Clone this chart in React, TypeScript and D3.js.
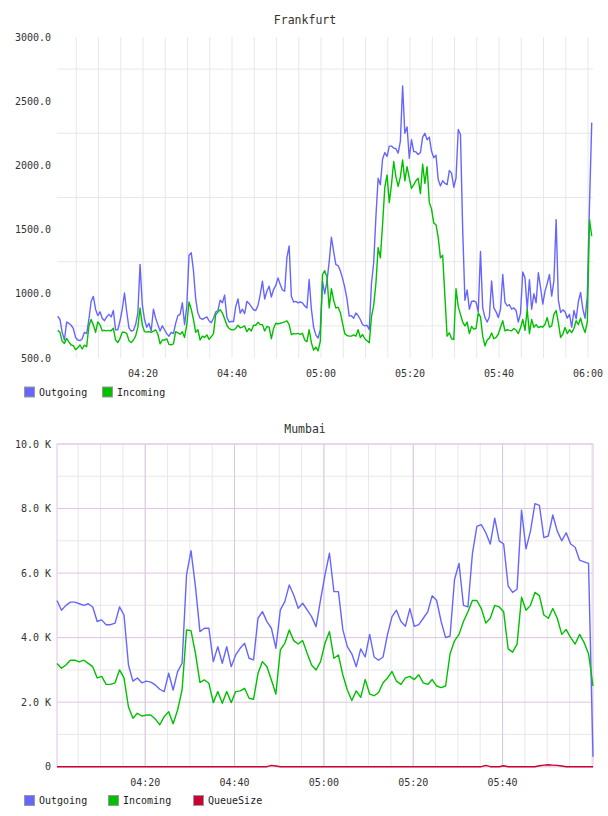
import * as d3 from 'd3'

// Frankfurt: one sample every 30 s starting at 04:00:50
const fraStart = '04:00:50'
const fraStepSec = 30
const fraOutgoing = [
  825, 800, 700, 640, 780, 770, 755, 730, 660, 640,
  635, 650, 700, 690, 800, 940, 980, 880, 830, 860,
  810, 790, 820, 840, 820, 870, 720, 720, 790, 880,
  1006, 860, 735, 710, 715, 760, 850, 1229, 915, 800,
  740, 770, 710, 880, 810, 760, 710, 750, 720, 690,
  670, 700, 690, 770, 830, 840, 930, 760, 900, 1300,
  1320, 1180,
  960, 850, 810, 800, 810, 820, 790, 775, 810, 858,
  870, 950, 930, 990, 820, 780, 784, 784, 900, 960,
  850, 880, 845, 941, 925, 900, 876, 870, 910, 993,
  1098, 960, 1020, 1059, 975, 1033, 1065, 1124, 1072, 1030,
  1020, 1281, 1373, 980, 936, 941, 930, 936, 930, 905,
  889, 1111, 880, 740, 680, 655, 720, 1098, 1000, 1098,
  1250,
  1440, 1330, 1227, 1220, 1180, 1120, 1050, 960, 826, 830,
  810, 850, 830, 800, 761, 750, 755, 720, 1080, 1240,
  1600, 1900, 1850, 2050, 2100, 2070, 2150, 2150, 2135, 2130,
  2095, 2190, 2618, 2250, 2300, 2056, 2200, 2108, 2105, 2085,
  2100, 2220, 2250, 2200, 2220, 2110, 2060, 2080, 1890, 1840,
  1880, 1860, 1850, 1960, 1940, 1830, 1900, 2280, 2240, 1500,
  950,
  1030, 880, 940, 944, 935, 860, 1330, 890, 815, 780,
  820, 1100, 890, 860, 815, 880, 1150, 935, 905, 915,
  880, 890, 870, 780, 850, 1170, 1125, 880, 1110, 880,
  1000, 930, 1164, 1050, 920, 1021, 1080, 1150, 982, 1100,
  1577, 950, 855, 875, 860, 810, 840, 740, 870, 805,
  940, 1010, 880, 810, 980, 1700, 2333,
]
const fraIncoming = [
  715, 700, 630, 614, 653, 625, 601, 596, 565, 580,
  601, 570, 600, 588, 750, 800, 758, 700, 780, 758,
  712, 715, 711, 715, 712, 732, 640, 620, 653, 700,
  700, 692, 635, 620, 640, 670, 740, 889, 758, 705,
  702, 705, 700, 710, 719, 685, 610, 640, 640, 650,
  606, 603, 610, 705, 695, 685, 705, 660, 760, 936,
  880, 800,
  700, 720, 640, 670, 660, 680, 645, 665, 690, 838,
  858, 876, 850, 805, 755, 730, 720, 719, 730, 755,
  735, 740, 750, 705, 730, 710, 755, 755, 778, 760,
  760, 710, 745, 740, 650, 730, 771, 765, 771, 775,
  782, 790, 760, 682, 690, 688, 692, 684, 692, 640,
  627, 720, 620, 561, 585, 555, 630, 1150, 1180, 1130,
  890,
  1040, 950, 890, 895, 855, 770, 690, 675, 670, 670,
  680, 670, 720, 660, 683, 650, 635, 618, 820, 910,
  1080, 1360, 1280, 1540, 1830, 1926, 1710, 1850, 2030, 1910,
  1836, 1910, 2043, 1880, 1990, 1900, 1820, 1850, 1880, 1900,
  1780, 2010, 1860, 1990, 1710, 1660, 1550, 1538, 1440, 1280,
  1300, 980, 670, 696, 650, 644, 1040, 900, 840, 780,
  750,
  780, 690, 745, 725, 730, 850, 820, 670, 594, 640,
  655, 695, 650, 660, 685, 740, 790, 712, 720, 715,
  712, 730, 718, 690, 735, 800, 715, 880, 690, 800,
  740, 760, 737, 745, 740, 763, 815, 740, 750, 840,
  870, 775, 660, 685, 737, 690, 720, 698, 730, 790,
  760, 810, 745, 698, 780, 1577, 1448,
]
const fraYTicks = [500, 1000, 1500, 2000, 2500, 3000]
const fraTimeLabels = ['04:20', '04:40', '05:00', '05:20', '05:40', '06:00']

// Mumbai: one sample per minute starting at 04:00:15
const mumStart = '04:00:15'
const mumStepSec = 60
const mumOutgoing = [
  5150, 4850, 5000, 5100, 5100, 5050, 5000, 5050, 4950, 4500,
  4550, 4400, 4400, 4450, 4950, 4700, 3150, 2650, 2750, 2600,
  2650, 2620, 2533, 2400, 2325, 2895, 2378, 2945, 3205, 5943,
  6696, 5580, 4185, 4290, 4290, 3255, 3720, 3205, 3720, 3100,
  3463, 3670, 3825, 3360, 3308, 4600, 4805, 4495, 4290, 3670,
  4858, 5115, 5633, 5323, 4910, 5065, 4858, 4650, 4340, 5168,
  5943, 6615, 5425, 5425, 4238, 3720, 3500, 3100, 3650, 3400,
  4100, 3400, 3300, 3400, 4100, 4650, 4850, 4500, 4350, 4900,
  4350, 4400, 4600, 4800, 5300, 5150, 4500, 4000, 4050, 5800,
  6300, 5000, 4950, 6600, 7450, 7500, 7250, 6900, 7700, 7000,
  6900, 5600, 5400, 5500, 7950, 6750, 7300, 8150, 8100, 7100,
  7150, 7800, 7300, 7000, 7250, 6900, 6800, 6400, 6350, 6300,
  310,
]
const mumIncoming = [
  3200, 3050, 3150, 3300, 3300, 3250, 3300, 3200, 3100, 2750,
  2800, 2550, 2550, 2600, 3000, 2750, 1850, 1500, 1655, 1571,
  1600, 1603, 1480, 1300, 1550, 1706, 1330, 1757, 2378, 4238,
  4218, 3514, 2615, 2688, 2585, 1986, 2327, 1964, 2327, 1986,
  2327, 2348, 2430, 2120, 2089, 2895, 3257, 3100, 2688, 2254,
  3617, 3824, 4238, 3907, 3803, 3907, 3514, 3152, 2997, 3257,
  3824, 4186, 3359, 3462, 2842, 2378, 2050, 2350, 2150, 2700,
  2250, 2200, 2300, 2600, 2750, 2950, 2650, 2550, 2750, 2800,
  2700, 2850, 2600, 2550, 2700, 2500, 2450, 2500, 3500, 3900,
  4100, 4500, 4800, 5150, 5150, 4900, 4450, 4600, 5000, 4950,
  4800, 3650, 3550, 3800, 5250, 4850, 5000, 5400, 5300, 4700,
  4600, 4900, 4600, 4100, 4250, 4000, 3800, 4100, 3850, 3500,
  2500,
]
const mumQueue = [
  0, 0, 0, 0, 0, 0, 0, 0, 0, 0,
  0, 0, 0, 0, 0, 0, 0, 0, 0, 0,
  0, 0, 0, 0, 0, 0, 0, 0, 0, 0,
  0, 0, 0, 0, 0, 0, 0, 0, 0, 0,
  0, 0, 0, 0, 0, 0, 0, 0, 40, 20,
  0, 0, 0, 0, 0, 0, 0, 0, 0, 0,
  0, 0, 0, 0, 0, 0, 0, 0, 0, 0,
  0, 0, 0, 0, 0, 0, 0, 0, 0, 0,
  0, 0, 0, 0, 0, 0, 0, 0, 0, 0,
  0, 0, 0, 0, 0, 0, 40, 0, 0, 0,
  30, 0, 0, 0, 0, 0, 0, 0, 30, 50,
  60, 50, 40, 20, 0, 0, 0, 0, 0, 0,
  0,
]
const mumYTicks = [0, 2000, 4000, 6000, 8000, 10000]
const mumTimeLabels = ['04:20', '04:40', '05:00', '05:20', '05:40']

const COLORS = { out: '#6666ff', inc: '#00c000', queue: '#cc0033' }
const FONT = '"DejaVu Sans Mono", "Liberation Mono", monospace'
const PLOT_LEFT = 57
const PLOT_RIGHT = 593

const parseHMS = d3.timeParse('%H:%M:%S')
const parseHM = d3.timeParse('%H:%M')
const fmtTime = d3.timeFormat('%H:%M')

type Series = { name: string; color: string; values: number[] }

type PanelProps = {
  title: string
  titleY: number
  top: number
  bottom: number
  xDomain: [string, string]
  yDomain: [number, number]
  yTicks: number[]
  yFormat: (v: number) => string
  timeLabels: string[]
  start: string
  stepSec: number
  series: Series[]
  legendX: number[]
  legendY: number
  framed: boolean
}

function Panel(p: PanelProps) {
  const x = d3
    .scaleTime()
    .domain([parseHMS(p.xDomain[0])!, parseHMS(p.xDomain[1])!])
    .range([PLOT_LEFT, PLOT_RIGHT])
  const y = d3.scaleLinear().domain(p.yDomain).range([p.bottom, p.top])

  const t0 = parseHMS(p.start)!.getTime()
  const timeAt = (i: number) => new Date(t0 + i * p.stepSec * 1000)

  const minorX = x.ticks(d3.timeMinute.every(5)!)
  const minorY = p.yTicks.slice(1).map((v, i) => (v + p.yTicks[i]) / 2)
  const labelTimes = p.timeLabels.map((s) => parseHM(s)!)

  const line = d3
    .line<number>()
    .x((_, i) => x(timeAt(i)))
    .y((d) => y(d))

  const majorColor = '#dcc6e0'
  const minorColor = '#e8e8e8'

  return (
    <g>
      <text
        x={305}
        y={p.titleY}
        textAnchor="middle"
        dy="0.35em"
        fontFamily={FONT}
        fontSize={11.5}
        fill="#333"
      >
        {p.title}
      </text>

      {minorX.map((t) => (
        <line
          key={'vx' + t.getTime()}
          x1={x(t)}
          x2={x(t)}
          y1={p.top}
          y2={p.bottom}
          stroke={minorColor}
          strokeWidth={1}
        />
      ))}
      {minorY.map((v) => (
        <line
          key={'hy' + v}
          x1={PLOT_LEFT}
          x2={PLOT_RIGHT}
          y1={y(v)}
          y2={y(v)}
          stroke={minorColor}
          strokeWidth={1}
        />
      ))}
      {p.framed &&
        labelTimes.map((t) => (
          <line
            key={'mx' + t.getTime()}
            x1={x(t)}
            x2={x(t)}
            y1={p.top}
            y2={p.bottom}
            stroke={majorColor}
            strokeWidth={1}
          />
        ))}
      {p.framed &&
        p.yTicks.map((v) => (
          <line
            key={'my' + v}
            x1={PLOT_LEFT}
            x2={PLOT_RIGHT}
            y1={y(v)}
            y2={y(v)}
            stroke={majorColor}
            strokeWidth={1}
          />
        ))}
      {p.framed && (
        <rect
          x={PLOT_LEFT}
          y={p.top}
          width={PLOT_RIGHT - PLOT_LEFT}
          height={p.bottom - p.top}
          fill="none"
          stroke="#e6cdea"
          strokeWidth={1.2}
        />
      )}

      {p.yTicks.map((v) => (
        <text
          key={'yl' + v}
          x={51}
          y={y(v)}
          dy="0.35em"
          textAnchor="end"
          fontFamily={FONT}
          fontSize={10}
          fill="#333"
        >
          {p.yFormat(v)}
        </text>
      ))}
      {labelTimes.map((t) => (
        <text
          key={'xl' + t.getTime()}
          x={x(t)}
          y={p.bottom + 15.5}
          dy="0.35em"
          textAnchor="middle"
          fontFamily={FONT}
          fontSize={10}
          fill="#333"
        >
          {fmtTime(t)}
        </text>
      ))}

      {p.series.map((s) => (
        <path
          key={s.name}
          d={line(s.values) ?? ''}
          fill="none"
          stroke={s.color}
          strokeWidth={1.4}
          strokeLinejoin="round"
        />
      ))}

      {p.series.map((s, i) => (
        <g key={'lg' + s.name} transform={`translate(${p.legendX[i]},${p.legendY})`}>
          <rect x={0.5} y={-4.5} width={10} height={10} fill={s.color} stroke="#999" strokeWidth={1} />
          <text x={15} y={0.5} dy="0.35em" fontFamily={FONT} fontSize={10} fill="#222">
            {s.name}
          </text>
        </g>
      ))}
    </g>
  )
}

export default function App() {
  return (
    <div style={{ position: 'absolute', left: 0, top: 0 }}>
      <svg width={604} height={816} style={{ display: 'block', background: '#fff' }}>
        <rect width={604} height={816} fill="#fff" />
        <Panel
          title="Frankfurt"
          titleY={20}
          top={37}
          bottom={358}
          xDomain={['04:00:40', '06:01:07']}
          yDomain={[500, 3000]}
          yTicks={fraYTicks}
          yFormat={d3.format('.1f')}
          timeLabels={fraTimeLabels}
          start={fraStart}
          stepSec={fraStepSec}
          series={[
            { name: 'Outgoing', color: COLORS.out, values: fraOutgoing },
            { name: 'Incoming', color: COLORS.inc, values: fraIncoming },
          ]}
          legendX={[24, 102]}
          legendY={391.5}
          framed={false}
        />
        <Panel
          title="Mumbai"
          titleY={429}
          top={444}
          bottom={766.7}
          xDomain={['04:00:15', '06:00:15']}
          yDomain={[0, 10000]}
          yTicks={mumYTicks}
          yFormat={(v) => (v === 0 ? '0' : `${(v / 1000).toFixed(1)} K`)}
          timeLabels={mumTimeLabels}
          start={mumStart}
          stepSec={mumStepSec}
          series={[
            { name: 'Outgoing', color: COLORS.out, values: mumOutgoing },
            { name: 'Incoming', color: COLORS.inc, values: mumIncoming },
            { name: 'QueueSize', color: COLORS.queue, values: mumQueue },
          ]}
          legendX={[24, 108, 193]}
          legendY={800}
          framed={true}
        />
      </svg>
    </div>
  )
}
